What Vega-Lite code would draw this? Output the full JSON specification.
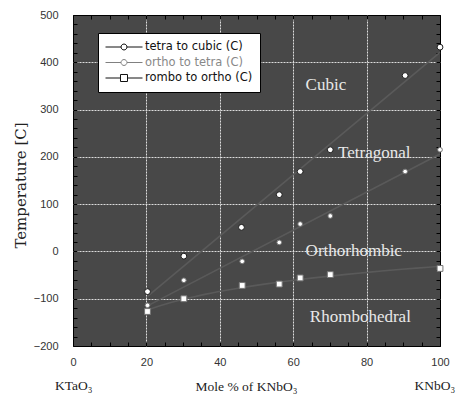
{
  "$schema": "https://vega.github.io/schema/vega-lite/v6.json",
  "width": 367,
  "height": 331,
  "autosize": {"type": "none"},
  "padding": {"left": 73, "top": 15, "right": 30, "bottom": 48},
  "background": "white",
  "config": {
    "view": {"fill": "#484848", "stroke": "#000000", "strokeWidth": 1},
    "axis": {
      "labelFont": "Liberation Sans",
      "labelFontSize": 11,
      "labelColor": "#333333",
      "tickColor": "#000000",
      "tickWidth": 1,
      "domain": false,
      "labelFlush": false,
      "labelOverlap": false,
      "labelBound": false
    }
  },
  "datasets": {
    "points": [
      {"series": "tetra to cubic (C)", "x": 20.3, "T": -85},
      {"series": "tetra to cubic (C)", "x": 30.2, "T": -10},
      {"series": "tetra to cubic (C)", "x": 45.9, "T": 51},
      {"series": "tetra to cubic (C)", "x": 56.2, "T": 120},
      {"series": "tetra to cubic (C)", "x": 61.9, "T": 169},
      {"series": "tetra to cubic (C)", "x": 70.1, "T": 215},
      {"series": "tetra to cubic (C)", "x": 90.5, "T": 372},
      {"series": "tetra to cubic (C)", "x": 100, "T": 432},
      {"series": "ortho to tetra (C)", "x": 20.3, "T": -114},
      {"series": "ortho to tetra (C)", "x": 30.2, "T": -61},
      {"series": "ortho to tetra (C)", "x": 46.1, "T": -21},
      {"series": "ortho to tetra (C)", "x": 56.2, "T": 19},
      {"series": "ortho to tetra (C)", "x": 61.9, "T": 58},
      {"series": "ortho to tetra (C)", "x": 70.1, "T": 75},
      {"series": "ortho to tetra (C)", "x": 90.5, "T": 169},
      {"series": "ortho to tetra (C)", "x": 100, "T": 215},
      {"series": "rombo to ortho (C)", "x": 20.3, "T": -127},
      {"series": "rombo to ortho (C)", "x": 30.2, "T": -100},
      {"series": "rombo to ortho (C)", "x": 46.1, "T": -72},
      {"series": "rombo to ortho (C)", "x": 56.2, "T": -69},
      {"series": "rombo to ortho (C)", "x": 61.9, "T": -56},
      {"series": "rombo to ortho (C)", "x": 70.1, "T": -49},
      {"series": "rombo to ortho (C)", "x": 100, "T": -36}
    ],
    "regions": [
      {"label": "Cubic", "x": 68.9, "T": 352},
      {"label": "Tetragonal", "x": 82.1, "T": 209},
      {"label": "Orthorhombic", "x": 76.5, "T": 0},
      {"label": "Rhombohedral", "x": 78.3, "T": -138}
    ],
    "ends": [
      {"label": "KTaO₃", "x": 0.2, "T": -285},
      {"label": "KNbO₃", "x": 98.6, "T": -285}
    ]
  },
  "resolve": {"axis": {"x": "independent", "y": "independent"}},
  "layer": [
    {
      "data": {"name": "points"},
      "transform": [
        {"filter": "datum.series !== 'rombo to ortho (C)'"},
        {"regression": "T", "on": "x", "groupby": ["series"]}
      ],
      "mark": {"type": "line", "color": "#5a5a5a", "strokeWidth": 1.6},
      "encoding": {
        "x": {
          "field": "x", "type": "quantitative",
          "scale": {"domain": [0, 100], "nice": false, "zero": false},
          "axis": {
            "orient": "top", "title": null, "labels": false, "grid": false, "tickSize": -4,
            "values": [0,5,10,15,20,25,30,35,40,45,50,55,60,65,70,75,80,85,90,95,100]
          }
        },
        "y": {
          "field": "T", "type": "quantitative",
          "scale": {"domain": [-200, 500], "nice": false, "zero": false},
          "axis": {
            "orient": "right", "title": null, "labels": false, "grid": false, "tickSize": -4,
            "values": [-200,-180,-160,-140,-120,-100,-80,-60,-40,-20,0,20,40,60,80,100,120,140,160,180,200,220,240,260,280,300,320,340,360,380,400,420,440,460,480,500]
          }
        },
        "detail": {"field": "series"}
      }
    },
    {
      "data": {"name": "points"},
      "transform": [
        {"filter": "datum.series === 'rombo to ortho (C)'"},
        {"regression": "T", "on": "x", "method": "log"}
      ],
      "mark": {"type": "line", "color": "#5a5a5a", "strokeWidth": 1.6},
      "encoding": {
        "x": {"field": "x", "type": "quantitative", "scale": {"domain": [0, 100], "nice": false, "zero": false}, "axis": null},
        "y": {"field": "T", "type": "quantitative", "scale": {"domain": [-200, 500], "nice": false, "zero": false}, "axis": null}
      }
    },
    {
      "data": {"name": "regions"},
      "mark": {"type": "text", "font": "Liberation Serif", "fontSize": 17, "color": "#e8e8e8", "align": "center", "baseline": "middle"},
      "encoding": {
        "x": {"field": "x", "type": "quantitative", "scale": {"domain": [0, 100], "nice": false, "zero": false}, "axis": null},
        "y": {"field": "T", "type": "quantitative", "scale": {"domain": [-200, 500], "nice": false, "zero": false}, "axis": null},
        "text": {"field": "label"}
      }
    },
    {
      "data": {"name": "ends"},
      "mark": {"type": "text", "font": "Liberation Serif", "fontSize": 13.5, "color": "#222222", "align": "center", "baseline": "middle"},
      "encoding": {
        "x": {"field": "x", "type": "quantitative", "scale": {"domain": [0, 100], "nice": false, "zero": false}, "axis": null},
        "y": {"field": "T", "type": "quantitative", "scale": {"domain": [-200, 500], "nice": false, "zero": false}, "axis": null},
        "text": {"field": "label"}
      }
    },
    {
      "data": {"name": "points"},
      "mark": {"type": "point", "filled": false, "fill": "white", "opacity": 0},
      "encoding": {
        "x": {"field": "x", "type": "quantitative", "scale": {"domain": [0, 100], "nice": false, "zero": false}, "axis": null},
        "y": {"field": "T", "type": "quantitative", "scale": {"domain": [-200, 500], "nice": false, "zero": false}, "axis": null},
        "shape": {
          "field": "series", "type": "nominal",
          "scale": {
            "domain": ["tetra to cubic (C)", "ortho to tetra (C)", "rombo to ortho (C)"],
            "range": [
              "M-1,0L-0.16,0M0.16,0L1,0M0.16,0C0.16,0.088,0.088,0.16,0,0.16C-0.088,0.16,-0.16,0.088,-0.16,0C-0.16,-0.088,-0.088,-0.16,0,-0.16C0.088,-0.16,0.16,-0.088,0.16,0Z",
              "M-1,0L-0.16,0M0.16,0L1,0M0.16,0C0.16,0.088,0.088,0.16,0,0.16C-0.088,0.16,-0.16,0.088,-0.16,0C-0.16,-0.088,-0.088,-0.16,0,-0.16C0.088,-0.16,0.16,-0.088,0.16,0Z",
              "M-1,0L-0.19,0M0.19,0L1,0M-0.19,-0.19L0.19,-0.19L0.19,0.19L-0.19,0.19Z"
            ]
          },
          "legend": {
            "orient": "none", "legendX": 25, "legendY": 18, "title": null,
            "fillColor": "white", "strokeColor": "black", "padding": 7,
            "labelFont": "DejaVu Sans", "labelFontSize": 11.5, "labelOffset": 2,
            "labelColor": {"expr": "datum.value === 'ortho to tetra (C)' ? '#888888' : '#111111'"},
            "symbolSize": 1369, "symbolOpacity": 1, "symbolStrokeWidth": 1, "symbolFillColor": "white",
            "clipHeight": 14, "rowPadding": 1.5
          }
        },
        "stroke": {
          "field": "series", "type": "nominal",
          "scale": {"domain": ["tetra to cubic (C)", "ortho to tetra (C)", "rombo to ortho (C)"], "range": ["#111111", "#808080", "#111111"]}
        }
      }
    },
    {
      "data": {"name": "points"},
      "mark": {"type": "point", "filled": true, "fill": "white", "opacity": 1, "strokeWidth": 1},
      "encoding": {
        "x": {
          "field": "x", "type": "quantitative",
          "scale": {"domain": [0, 100], "nice": false, "zero": false},
          "axis": {
            "orient": "bottom",
            "title": "Mole % of KNbO₃",
            "titleFont": "Liberation Serif", "titleFontSize": 13.5, "titleFontWeight": "normal", "titleColor": "#222222",
            "titleX": 173, "titleY": 40, "titleBaseline": "middle", "titleAlign": "center",
            "tickSize": -4, "labelPadding": 14, "labelBaseline": "top",
            "values": [0,5,10,15,20,25,30,35,40,45,50,55,60,65,70,75,80,85,90,95,100],
            "labelExpr": "datum.value % 20 === 0 ? datum.label : ''",
            "grid": true, "gridColor": "#dddddd", "gridDash": [2, 1], "gridWidth": 1,
            "gridOpacity": {"condition": {"test": "datum.value % 20 === 0 && datum.value > 0 && datum.value < 100", "value": 1}, "value": 0}
          }
        },
        "y": {
          "field": "T", "type": "quantitative",
          "scale": {"domain": [-200, 500], "nice": false, "zero": false},
          "axis": {
            "orient": "left",
            "title": "Temperature [C]",
            "titleFont": "DejaVu Serif", "titleFontSize": 15, "titleFontWeight": "normal", "titleColor": "#222222",
            "titleX": -53, "titleY": 170, "titleAngle": 270, "titleBaseline": "middle", "titleAlign": "center",
            "tickSize": -4, "labelPadding": 19,
            "values": [-200,-180,-160,-140,-120,-100,-80,-60,-40,-20,0,20,40,60,80,100,120,140,160,180,200,220,240,260,280,300,320,340,360,380,400,420,440,460,480,500],
            "labelExpr": "datum.value % 100 === 0 ? datum.label : ''",
            "grid": true, "gridColor": "#dddddd", "gridDash": [2, 1], "gridWidth": 1,
            "gridOpacity": {"condition": {"test": "datum.value % 100 === 0 && datum.value > -200 && datum.value < 500", "value": 1}, "value": 0}
          }
        },
        "shape": {"condition": {"test": "datum.series === 'rombo to ortho (C)'", "value": "square"}, "value": "circle"},
        "stroke": {"condition": {"test": "datum.series === 'tetra to cubic (C)'", "value": "#1a1a1a"}, "value": "#777777"},
        "size": {"condition": {"test": "datum.series === 'ortho to tetra (C)'", "value": 22}, "value": 34}
      }
    }
  ]
}
